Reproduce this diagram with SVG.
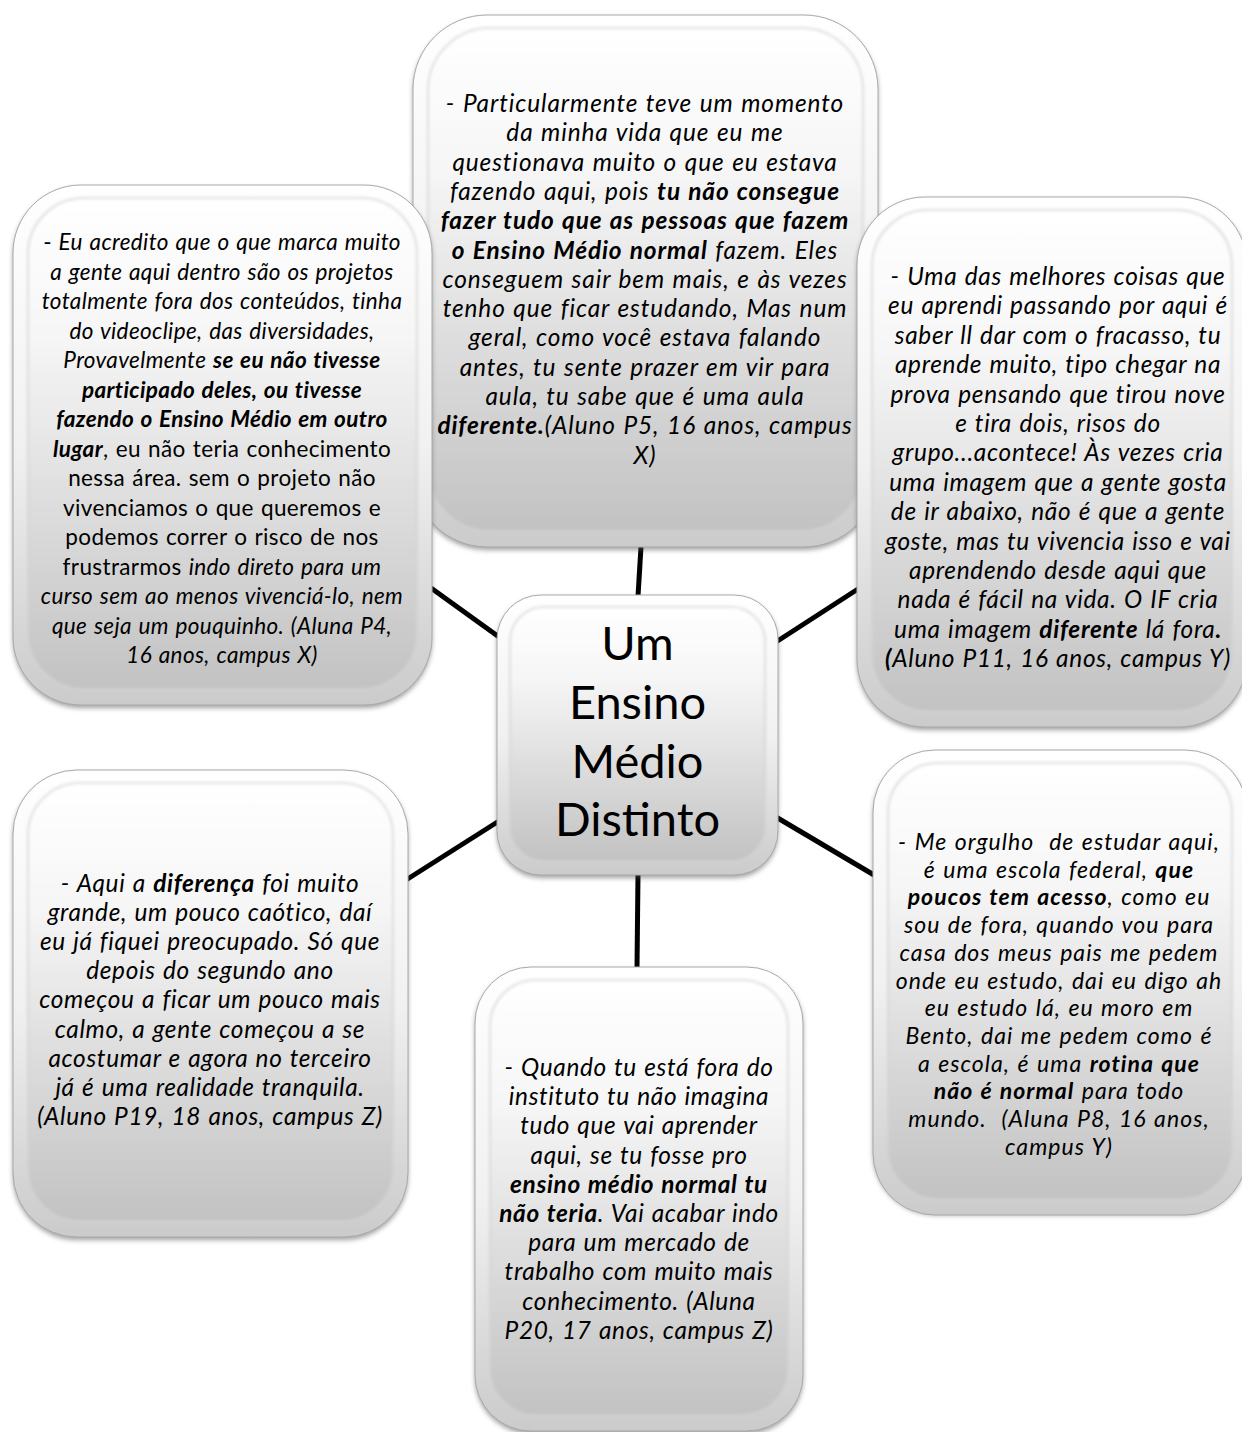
<svg xmlns="http://www.w3.org/2000/svg" width="1242" height="1432" viewBox="0 0 1242 1432">
<defs>
<linearGradient id="rim" x1="0" y1="0" x2="0" y2="1">
<stop offset="0" stop-color="#ffffff"/>
<stop offset="0.5" stop-color="#f1f1f1"/>
<stop offset="1" stop-color="#cbcbcb"/>
</linearGradient>
<linearGradient id="face" x1="0" y1="0" x2="0" y2="1">
<stop offset="0" stop-color="#ffffff"/>
<stop offset="0.28" stop-color="#f6f6f6"/>
<stop offset="1" stop-color="#c2c2c2"/>
</linearGradient>
<filter id="shadow" x="-10%" y="-10%" width="120%" height="120%">
<feGaussianBlur stdDeviation="2.5"/>
</filter>
<filter id="soft" x="-5%" y="-5%" width="110%" height="110%">
<feGaussianBlur stdDeviation="1.4"/>
</filter>
</defs>
<style>
.sh{fill:#555555;opacity:.55;filter:url(#shadow)}
.rim{fill:url(#rim);stroke:#a9a9a9;stroke-width:1}
.face{fill:url(#face);stroke:#d2d2d2;stroke-width:1.5;filter:url(#soft)}
.q{font-family:Lato,"Open Sans",sans-serif;font-size:24.4px;font-style:italic;letter-spacing:0.65px;word-spacing:1px;fill:#000;text-anchor:middle}
.T{letter-spacing:0.9px}
.P{letter-spacing:0.7px}
.L{font-size:22.5px;letter-spacing:0.38px}
.R{font-size:23px;letter-spacing:1.05px}
.b{font-weight:bold}
.r{font-style:normal}
.c{font-family:Lato,"Open Sans",sans-serif;font-size:47px;fill:#000;text-anchor:middle}
.con{stroke:#000;stroke-width:5;fill:none;stroke-linecap:butt}
</style>
<rect width="1242" height="1432" fill="#ffffff"/>

<g id="connectors">
<line class="con" x1="641" y1="547" x2="638" y2="596"/>
<line class="con" x1="638" y1="874" x2="637" y2="968"/>
<line class="con" x1="431" y1="588" x2="499" y2="637"/>
<line class="con" x1="776" y1="642" x2="858" y2="589"/>
<line class="con" x1="406" y1="880" x2="499" y2="821"/>
<line class="con" x1="776" y1="817" x2="874" y2="875"/>
</g>

<g id="node-top">
<rect class="sh" x="413" y="18" width="465" height="532" rx="74"/>
<rect class="rim" x="413" y="15" width="465" height="532" rx="74"/>
<rect class="face" x="428" y="28" width="435" height="503" rx="62"/>
<text class="q T" x="645" y="112">- Particularmente teve um momento</text>
<text class="q T" x="645" y="141.3">da minha vida que eu me</text>
<text class="q T" x="645" y="170.6">questionava muito o que eu estava</text>
<text class="q T" x="645" y="199.9">fazendo aqui, pois <tspan class="b">tu não consegue</tspan></text>
<text class="q T b" x="645" y="229.2">fazer tudo que as pessoas que fazem</text>
<text class="q T" x="645" y="258.5"><tspan class="b">o Ensino Médio normal</tspan> fazem. Eles</text>
<text class="q T" x="645" y="287.8">conseguem sair bem mais, e às vezes</text>
<text class="q T" x="645" y="317.1">tenho que ficar estudando, Mas num</text>
<text class="q T" x="645" y="346.4">geral, como você estava falando</text>
<text class="q T" x="645" y="375.7">antes, tu sente prazer em vir para</text>
<text class="q T" x="645" y="405">aula, tu sabe que é uma aula</text>
<text class="q T" x="645" y="434.3"><tspan class="b">diferente.</tspan>(Aluno P5, 16 anos, campus</text>
<text class="q T" x="645" y="463.6">X)</text>
</g>

<g id="node-top-left">
<rect class="sh" x="13" y="188" width="419" height="520" rx="68"/>
<rect class="rim" x="13" y="185" width="419" height="520" rx="68"/>
<rect class="face" x="28" y="198" width="389" height="491" rx="56"/>
<text class="q L" x="222" y="250"><tspan class="r">-</tspan> Eu acredito que o que marca muito</text>
<text class="q L" x="222" y="279.5">a gente aqui dentro são os projetos</text>
<text class="q L" x="222" y="309">totalmente fora dos conteúdos, tinha</text>
<text class="q L" x="222" y="338.5">do videoclipe, das diversidades,</text>
<text class="q L" x="222" y="368">Provavelmente <tspan class="b">se eu não tivesse</tspan></text>
<text class="q L b" x="222" y="397.5">participado deles, ou tivesse</text>
<text class="q L b" x="222" y="427">fazendo o Ensino Médio em outro</text>
<text class="q L" x="222" y="456.5"><tspan class="b">lugar</tspan><tspan class="r">, eu não teria conhecimento</tspan></text>
<text class="q L r" x="222" y="486">nessa área. sem o projeto não</text>
<text class="q L r" x="222" y="515.5">vivenciamos o que queremos e</text>
<text class="q L r" x="222" y="545">podemos correr o risco de nos</text>
<text class="q L" x="222" y="574.5"><tspan class="r">frustrarmos </tspan>indo direto para um</text>
<text class="q L" x="222" y="604">curso sem ao menos vivenciá-lo, nem</text>
<text class="q L" x="222" y="633.5">que seja um pouquinho. (Aluna P4,</text>
<text class="q L" x="222" y="663">16 anos, campus X)</text>
</g>

<g id="node-top-right">
<rect class="sh" x="857" y="200" width="390" height="530" rx="68"/>
<rect class="rim" x="857" y="197" width="390" height="530" rx="68"/>
<rect class="face" x="872" y="210" width="360" height="501" rx="56"/>
<text class="q P" x="1058" y="285">- Uma das melhores coisas que</text>
<text class="q P" x="1058" y="314.4">eu aprendi passando por aqui é</text>
<text class="q P" x="1058" y="343.8">saber ll dar com o fracasso, tu</text>
<text class="q P" x="1058" y="373.2">aprende muito, tipo chegar na</text>
<text class="q P" x="1058" y="402.6">prova pensando que tirou nove</text>
<text class="q P" x="1058" y="432">e tira dois, risos do</text>
<text class="q P" x="1058" y="461.4">grupo...acontece! Às vezes cria</text>
<text class="q P" x="1058" y="490.8">uma imagem que a gente gosta</text>
<text class="q P" x="1058" y="520.2">de ir abaixo, não é que a gente</text>
<text class="q P" x="1058" y="549.6">goste, mas tu vivencia isso e vai</text>
<text class="q P" x="1058" y="579">aprendendo desde aqui que</text>
<text class="q P" x="1058" y="608.4">nada é fácil na vida. O IF cria</text>
<text class="q P" x="1058" y="637.8">uma imagem <tspan class="b">diferente</tspan> lá fora<tspan class="b">.</tspan></text>
<text class="q P" x="1058" y="667.2"><tspan class="b">(</tspan>Aluno P11, 16 anos, campus Y)</text>
</g>

<g id="node-bottom-left">
<rect class="sh" x="13" y="773" width="395" height="467" rx="64"/>
<rect class="rim" x="13" y="770" width="395" height="467" rx="64"/>
<rect class="face" x="28" y="783" width="365" height="438" rx="52"/>
<text class="q" x="210" y="892">- Aqui a <tspan class="b">diferença</tspan> foi muito</text>
<text class="q" x="210" y="921.1">grande, um pouco caótico, daí</text>
<text class="q" x="210" y="950.2">eu já fiquei preocupado. Só que</text>
<text class="q" x="210" y="979.3">depois do segundo ano</text>
<text class="q" x="210" y="1008.4">começou a ficar um pouco mais</text>
<text class="q" x="210" y="1037.5">calmo, a gente começou a se</text>
<text class="q" x="210" y="1066.6">acostumar e agora no terceiro</text>
<text class="q" x="210" y="1095.7">já é uma realidade tranquila.</text>
<text class="q" x="210" y="1124.8">(Aluno P19, 18 anos, campus Z)</text>
</g>

<g id="node-bottom">
<rect class="sh" x="475" y="970" width="328" height="464" rx="56"/>
<rect class="rim" x="475" y="967" width="328" height="464" rx="56"/>
<rect class="face" x="490" y="980" width="298" height="435" rx="46"/>
<text class="q" x="639" y="1076">- Quando tu está fora do</text>
<text class="q" x="639" y="1105.2">instituto tu não imagina</text>
<text class="q" x="639" y="1134.4">tudo que vai aprender</text>
<text class="q" x="639" y="1163.6">aqui, se tu fosse pro</text>
<text class="q b" x="639" y="1192.8">ensino médio normal tu</text>
<text class="q" x="639" y="1222"><tspan class="b">não teria</tspan>. Vai acabar indo</text>
<text class="q" x="639" y="1251.2">para um mercado de</text>
<text class="q" x="639" y="1280.4">trabalho com muito mais</text>
<text class="q" x="639" y="1309.6">conhecimento. (Aluna</text>
<text class="q" x="639" y="1338.8">P20, 17 anos, campus Z)</text>
</g>

<g id="node-bottom-right">
<rect class="sh" x="873" y="753" width="374" height="462" rx="62"/>
<rect class="rim" x="873" y="750" width="374" height="465" rx="62"/>
<rect class="face" x="888" y="763" width="344" height="436" rx="50"/>
<text class="q R" x="1059" y="850">- Me orgulho&#160; de estudar aqui,</text>
<text class="q R" x="1059" y="877.7">é uma escola federal, <tspan class="b">que</tspan></text>
<text class="q R" x="1059" y="905.4"><tspan class="b">poucos tem acesso</tspan>, como eu</text>
<text class="q R" x="1059" y="933.1">sou de fora, quando vou para</text>
<text class="q R" x="1059" y="960.8">casa dos meus pais me pedem</text>
<text class="q R" x="1059" y="988.5">onde eu estudo, dai eu digo ah</text>
<text class="q R" x="1059" y="1016.2">eu estudo lá, eu moro em</text>
<text class="q R" x="1059" y="1043.9">Bento, dai me pedem como é</text>
<text class="q R" x="1059" y="1071.6">a escola, é uma <tspan class="b">rotina que</tspan></text>
<text class="q R" x="1059" y="1099.3"><tspan class="b">não é normal</tspan> para todo</text>
<text class="q R" x="1059" y="1127">mundo.&#160; (Aluna P8, 16 anos,</text>
<text class="q R" x="1059" y="1154.7">campus Y)</text>
</g>

<g id="node-center">
<rect class="sh" x="497" y="598" width="281" height="280" rx="44"/>
<rect class="rim" x="497" y="595" width="281" height="280" rx="44"/>
<rect class="face" x="510" y="607" width="255" height="254" rx="34"/>
<text class="c" x="637.5" y="660">Um</text>
<text class="c" x="637.5" y="719">Ensino</text>
<text class="c" x="637.5" y="778">Médio</text>
<text class="c" x="637.5" y="836">Distinto</text>
</g>
</svg>
